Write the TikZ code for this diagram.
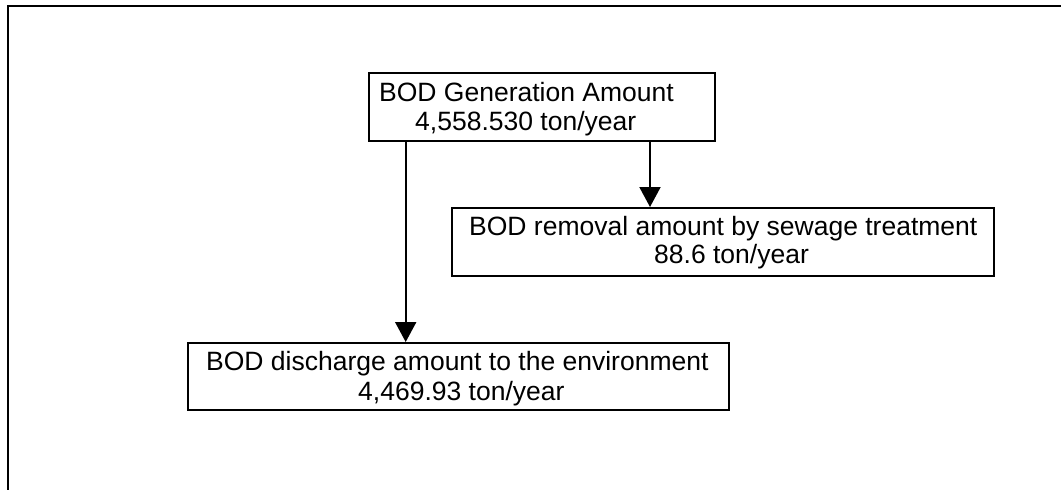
\documentclass[tikz,border=0pt]{standalone}
\usepackage{fontspec}
\setmainfont{Liberation Sans}
\usetikzlibrary{arrows.meta}
\tikzset{
  box/.style={draw=black, line width=2pt, rectangle, inner sep=0pt},
  txt/.style={inner sep=0pt, anchor=base west, font=\fontsize{26.5pt}{30pt}\selectfont},
  arr/.style={draw=black, line width=2pt, -{Triangle[length=20pt,width=21pt]}},
  frame/.style={draw=black, line width=2.2pt}
}
\begin{document}
\begin{tikzpicture}[x=1pt,y=-1pt]
\useasboundingbox (0,0) rectangle (1061,490);
% outer frame (top and left only)
\coordinate (ftr) at (1061,6);
\coordinate (ftl) at (8,6);
\coordinate (fbl) at (8,490);
\draw[frame] (ftr) -- (ftl) -- (fbl);
% boxes
\node[box, minimum width=346pt, minimum height=68pt] (gen) at (542,107) {};
\node[box, minimum width=542pt, minimum height=68pt] (rem) at (723,242) {};
\node[box, minimum width=541pt, minimum height=67pt] (dis) at (458.5,376.5) {};
% texts
\node[txt] (gen1) at (379,101.7) {BOD Generation Amount};
\node[txt] (gen2) at (415,130.7) {4,558.530 ton/year};
\node[txt] (rem1) at (469,235) {BOD removal amount by sewage treatment};
\node[txt] (rem2) at (654,263.5) {88.6 ton/year};
\node[txt] (dis1) at (206,370) {BOD discharge amount to the environment};
\node[txt] (dis2) at (358,400) {4,469.93 ton/year};
% connectors
\coordinate (a1x) at (405.7,0);
\coordinate (a2x) at (650,0);
\draw[arr] (gen.south -| a1x) -- (dis.north -| a1x);
\draw[arr] (gen.south -| a2x) -- (rem.north -| a2x);
\end{tikzpicture}
\end{document}
